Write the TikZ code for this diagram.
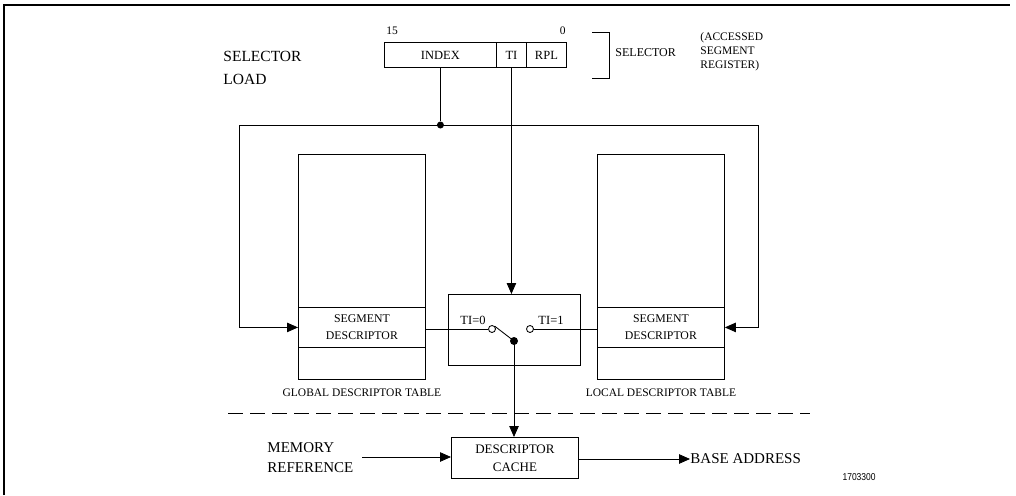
\documentclass[tikz,border=0pt]{standalone}
\usepackage{fontspec}
\setmainfont{Liberation Serif}
\newfontfamily\idfont{Liberation Sans}
\usetikzlibrary{arrows.meta}
\begin{document}
\begin{tikzpicture}[x=1pt,y=-1pt,
  line width=0.85pt,
  tip/.style={-{Triangle[length=11pt,width=9.5pt]}},
  bigtxt/.style={font=\fontsize{15.5}{22.5}\selectfont, inner sep=0pt},
  midtxt/.style={font=\fontsize{12}{14}\selectfont, inner sep=0pt},
  acctxt/.style={font=\fontsize{11.5}{14}\selectfont, inner sep=0pt},
  smalltxt/.style={font=\fontsize{11.5}{13}\selectfont, inner sep=0pt},
  field/.style={draw, minimum height=25pt, inner sep=0pt, font=\fontsize{12.5}{14}\selectfont},
  table/.style={draw, inner sep=0pt},
  segrow/.style={draw, inner sep=0pt, align=center, font=\fontsize{11.8}{17}\selectfont},
  ring/.style={circle, draw, fill=white, minimum size=7pt, inner sep=0pt},
  dotn/.style={circle, fill=black, minimum size=8pt, inner sep=0pt}
]
\useasboundingbox (0,0) rectangle (1016,495);
% frame
\draw[line width=1.8pt] (4,495) -- (4,5) -- (1010,5);

% selector register
\node[field, minimum width=112pt, anchor=north west] (idx) at (384,42) {INDEX};
\node[field, minimum width=30pt, anchor=north west] (ti) at (496,42) {TI};
\node[field, minimum width=40pt, anchor=north west] (rpl) at (526,42) {RPL};
\node[smalltxt, anchor=base west] (b15) at (386,35) {15};
\node[smalltxt, anchor=base east] (b0) at (566,35) {0};
\draw (592,32) -- (609,32) -- (609,78) -- (592,78);
\node[midtxt, anchor=west] (sellab) at (615,53) {SELECTOR};
\node[acctxt, anchor=west, align=left] (acc) at (700,52) {(ACCESSED\\SEGMENT\\REGISTER)};
\node[bigtxt, anchor=west, align=left] (load) at (223,68) {SELECTOR\\LOAD};

% tables
\node[table, minimum width=127pt, minimum height=225pt, anchor=north west] (gdt) at (298,154) {};
\node[segrow, minimum width=127pt, minimum height=40pt, anchor=north west] (gseg) at (298,307) {SEGMENT\\DESCRIPTOR};
\node[table, minimum width=127pt, minimum height=225pt, anchor=north west] (ldt) at (597,154) {};
\node[segrow, minimum width=127pt, minimum height=40pt, anchor=north west] (lseg) at (597,307) {SEGMENT\\DESCRIPTOR};
\node[smalltxt] (glab) at (gdt.south |- 0,393) {GLOBAL DESCRIPTOR TABLE};
\node[smalltxt] (llab) at (ldt.south |- 0,393) {LOCAL DESCRIPTOR TABLE};

% bus
\coordinate (busL) at (239,125);
\coordinate (busR) at (758,125);
\node[dotn, minimum size=7pt] (bdot) at (idx.south |- busL) {};
\draw (idx.south) -- (bdot);
\draw (busL) -- (busR);
\draw[tip] (busL) |- (gseg.west);
\draw[tip] (busR) |- (lseg.east);

% switch
\node[draw, minimum width=132pt, minimum height=71pt, anchor=north west, inner sep=0pt] (sw) at (448,294) {};
\draw[tip] (ti.south) -- (ti.south |- sw.north);
\node[ring] (c0) at (492,329) {};
\node[ring] (c1) at (530,329) {};
\node[dotn] (pv) at (514,341) {};
\draw (gseg.east |- c0) -- (c0.west);
\draw (c1.east) -- (lseg.west |- c1);
\draw (c0.north east) -- (pv.center);
\node[smalltxt, font=\fontsize{12.5}{14}\selectfont] (t0) at (473,320) {TI=0};
\node[smalltxt, font=\fontsize{12.5}{14}\selectfont] (t1) at (551,320) {TI=1};

% dashed separator
\coordinate (dL) at (228,413);
\coordinate (dR) at (810,413);
\draw[dash pattern=on 15pt off 7pt] (dL) -- (dR);

% cache
\node[draw, minimum width=127pt, minimum height=41pt, anchor=north west, inner sep=0pt, align=center, font=\fontsize{13}{18}\selectfont] (cache) at (451,437) {DESCRIPTOR\\CACHE};
\draw[tip] (pv.center) -- (pv.center |- cache.north);
\node[bigtxt, anchor=west, align=left, font=\fontsize{15}{20}\selectfont] (mem) at (267,458) {MEMORY\\REFERENCE};
\coordinate (memend) at (362,457);
\draw[tip] (memend) -- (cache.west |- memend);
\node[bigtxt, anchor=west, font=\fontsize{15}{20}\selectfont] (base) at (690,459) {BASE ADDRESS};
\draw[tip] (cache.east |- base) -- (base.west);
\node[font=\idfont\fontsize{10}{12}\selectfont, inner sep=0pt, anchor=east, xscale=0.85] (fig) at (876,477) {1703300};
\end{tikzpicture}
\end{document}
